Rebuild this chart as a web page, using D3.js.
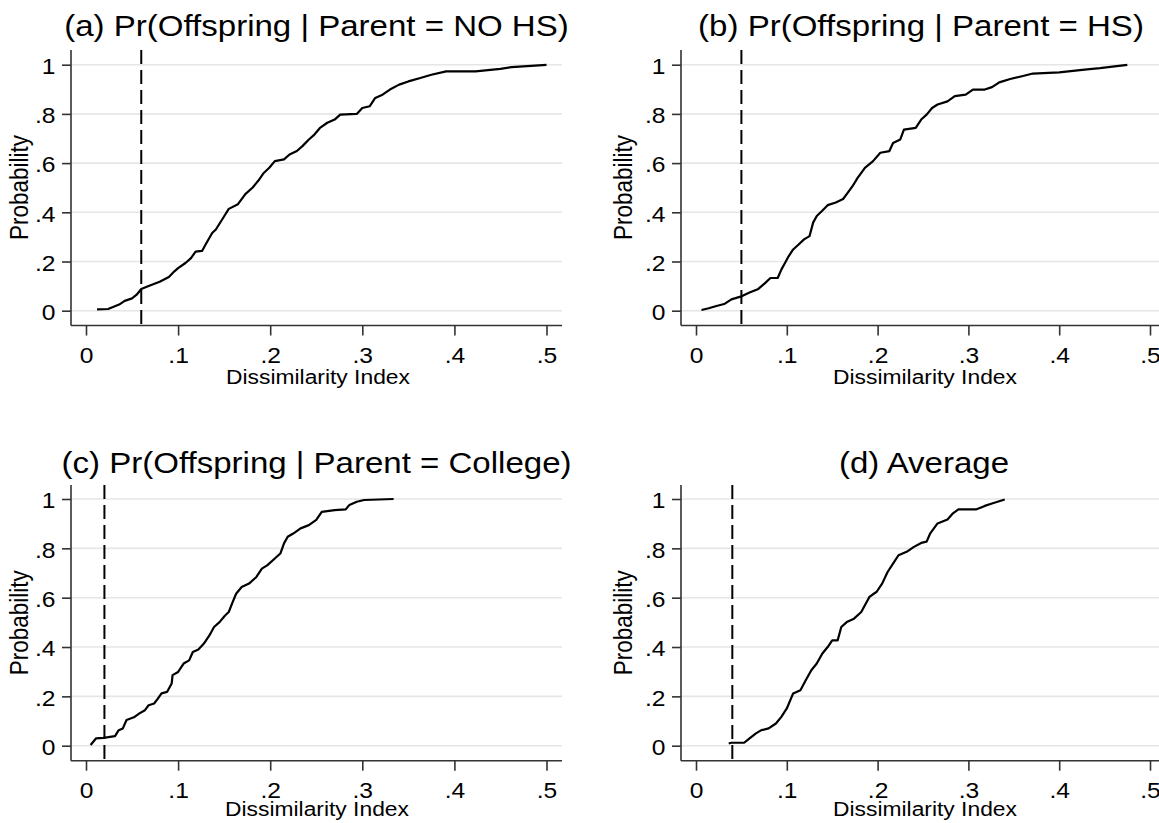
<!DOCTYPE html>
<html>
<head>
<meta charset="utf-8">
<script src="https://cdn.jsdelivr.net/npm/d3@7"></script>
<style>
  body { margin: 0; background: #fff; }
  text { font-family: "Liberation Sans", Arial, sans-serif; fill: #000; }
</style>
</head>
<body>
<svg id="chart" width="1159" height="823"></svg>
<script>
// panel titles and cut-off values (dashed lines)
var titles = ["(a) Pr(Offspring | Parent = NO HS)", "(b) Pr(Offspring | Parent = HS)",
  "(c) Pr(Offspring | Parent = College)", "(d) Average"];
var cutoffs = [0.06, 0.05, 0.02, 0.04];
var xTicks = [0, 0.1, 0.2, 0.3, 0.4, 0.5];
var yTicks = [0, 0.2, 0.4, 0.6, 0.8, 1];
var xTitle = "Dissimilarity Index";
var yTitle = "Probability";

// cumulative distributions, [dissimilarity, probability]
var noHs = [[0.012,0.005],[0.024,0.007],[0.03,0.016],[0.036,0.025],[0.042,0.04],[0.05,0.05],[0.055,0.065],
  [0.06,0.088],[0.068,0.1],[0.08,0.118],[0.09,0.137],[0.096,0.16],[0.1,0.173],[0.108,0.194],[0.114,0.214],
  [0.119,0.24],[0.126,0.243],[0.13,0.27],[0.137,0.316],[0.141,0.33],[0.149,0.378],[0.155,0.414],[0.165,0.433],
  [0.173,0.474],[0.181,0.501],[0.187,0.528],[0.193,0.56],[0.199,0.581],[0.205,0.608],[0.215,0.615],[0.221,0.635],
  [0.229,0.649],[0.235,0.669],[0.242,0.696],[0.248,0.716],[0.254,0.743],[0.262,0.764],[0.27,0.777],[0.276,0.797],
  [0.294,0.8],[0.3,0.824],[0.308,0.831],[0.314,0.865],[0.322,0.878],[0.33,0.899],[0.34,0.919],[0.35,0.932],
  [0.363,0.946],[0.375,0.959],[0.391,0.973],[0.423,0.973],[0.45,0.983],[0.462,0.99],[0.5,0.999]];
var hs = [[0.006,0.003],[0.014,0.01],[0.0225,0.019],[0.031,0.027],[0.039,0.046],[0.049,0.057],[0.059,0.074],
  [0.068,0.087],[0.076,0.112],[0.082,0.133],[0.09,0.133],[0.094,0.167],[0.098,0.194],[0.102,0.221],[0.107,0.249],
  [0.113,0.269],[0.119,0.29],[0.125,0.303],[0.129,0.358],[0.133,0.385],[0.139,0.406],[0.145,0.429],[0.154,0.44],
  [0.162,0.454],[0.166,0.474],[0.172,0.504],[0.178,0.54],[0.186,0.581],[0.195,0.608],[0.203,0.642],[0.213,0.649],
  [0.217,0.682],[0.225,0.696],[0.229,0.736],[0.242,0.743],[0.248,0.777],[0.254,0.797],[0.26,0.824],[0.266,0.838],
  [0.277,0.851],[0.285,0.872],[0.297,0.878],[0.305,0.899],[0.318,0.899],[0.326,0.909],[0.334,0.928],[0.346,0.942],
  [0.359,0.953],[0.371,0.964],[0.4,0.969],[0.428,0.98],[0.445,0.986],[0.461,0.993],[0.475,0.999]];
var college = [[0.005,0.003],[0.011,0.03],[0.019,0.032],[0.0315,0.039],[0.0355,0.063],[0.04,0.07],[0.044,0.104],
  [0.052,0.115],[0.058,0.131],[0.064,0.144],[0.068,0.164],[0.074,0.171],[0.078,0.191],[0.082,0.212],[0.088,0.218],
  [0.093,0.252],[0.094,0.286],[0.1,0.299],[0.106,0.333],[0.112,0.346],[0.116,0.38],[0.122,0.39],[0.128,0.414],
  [0.134,0.447],[0.139,0.481],[0.145,0.501],[0.151,0.528],[0.155,0.542],[0.159,0.58],[0.163,0.616],[0.169,0.643],
  [0.177,0.657],[0.185,0.684],[0.191,0.718],[0.197,0.732],[0.205,0.759],[0.211,0.779],[0.215,0.82],[0.219,0.847],
  [0.225,0.86],[0.233,0.881],[0.242,0.894],[0.25,0.915],[0.256,0.948],[0.27,0.955],[0.282,0.958],[0.286,0.976],
  [0.294,0.989],[0.302,0.996],[0.334,1.0]];
var average = [[0.036,0.009],[0.039,0.012],[0.053,0.012],[0.059,0.03],[0.066,0.05],[0.072,0.063],[0.08,0.07],
  [0.088,0.09],[0.094,0.117],[0.1,0.151],[0.107,0.212],[0.115,0.225],[0.121,0.266],[0.127,0.306],[0.133,0.333],
  [0.139,0.373],[0.145,0.4],[0.15,0.427],[0.156,0.427],[0.16,0.481],[0.166,0.501],[0.174,0.515],[0.182,0.542],
  [0.186,0.569],[0.191,0.603],[0.199,0.624],[0.205,0.657],[0.211,0.704],[0.217,0.738],[0.223,0.772],[0.232,0.786],
  [0.24,0.806],[0.248,0.822],[0.254,0.827],[0.258,0.861],[0.266,0.901],[0.277,0.917],[0.283,0.942],[0.289,0.958],
  [0.309,0.958],[0.318,0.972],[0.326,0.982],[0.34,0.998]];
var curves = [noHs, hs, college, average];

// text in the picture is a bit wider than Arial
var SX = 1.12;

var frames = [
  {l: 71, r: 562, x0: 86, x5: 546.5, t: 50, b: 325.5, y1: 64.7, y0: 310.7, tx: 316.5, ty: 36, ax: 318, ay: 384, yx: 28, yy: 187.5},
  {l: 681, r: 1161, x0: 696, x5: 1150, t: 50, b: 325.5, y1: 64.7, y0: 310.7, tx: 921, ty: 36, ax: 925, ay: 384, yx: 632, yy: 187.5},
  {l: 71, r: 562, x0: 86, x5: 546.5, t: 485, b: 760.7, y1: 499, y0: 745.7, tx: 316.5, ty: 473, ax: 317, ay: 816, yx: 28, yy: 622.8},
  {l: 681, r: 1161, x0: 696, x5: 1150, t: 485, b: 760.7, y1: 499, y0: 745.7, tx: 924, ty: 473, ax: 925, ay: 816, yx: 632, yy: 622.8}
];

function fmt(d) {
  if (d === 0) return "0";
  if (d === 1) return "1";
  return String(+d.toFixed(1)).replace(/^0/, "");
}

function stext(g, x, y, str, size, anchor) {
  return g.append("text")
    .attr("transform", "translate(" + x + "," + y + ") scale(" + SX + ",1)")
    .attr("text-anchor", anchor)
    .style("font-size", size + "px")
    .text(str);
}

var svg = d3.select("#chart");
svg.append("rect").attr("width", 1159).attr("height", 823).attr("fill", "#fff");

for (var i = 0; i < 4; i++) {
  var f = frames[i];
  var g = svg.append("g");
  var x = d3.scaleLinear().domain([0, 0.5]).range([f.x0, f.x5]);
  var y = d3.scaleLinear().domain([0, 1]).range([f.y0, f.y1]);

  // grid
  g.selectAll(".grid").data(yTicks).enter().append("line")
    .attr("x1", f.l).attr("x2", f.r)
    .attr("y1", d => y(d)).attr("y2", d => y(d))
    .attr("stroke", "#e6e6e6").attr("stroke-width", 1.6);

  // axes
  var xa = g.append("g").attr("transform", "translate(0," + f.b + ")")
    .call(d3.axisBottom(x).tickValues(xTicks).tickFormat(fmt).tickSize(10));
  xa.select(".domain").remove();
  xa.selectAll("line").attr("stroke", "#333").attr("stroke-width", 1.6);
  xa.selectAll("text").attr("y", null).attr("dy", null)
    .attr("transform", "translate(0,37.5) scale(" + SX + ",1)")
    .style("font-size", "22px").style("font-family", null).attr("fill", "#000");

  var ya = g.append("g").attr("transform", "translate(" + f.l + ",0)")
    .call(d3.axisLeft(y).tickValues(yTicks).tickFormat(fmt).tickSize(9));
  ya.select(".domain").remove();
  ya.selectAll("line").attr("stroke", "#333").attr("stroke-width", 1.6);
  ya.selectAll("text").attr("x", null).attr("dy", "0.4em")
    .attr("transform", "translate(-15.5,0) scale(" + SX + ",1)")
    .style("font-size", "22px").style("font-family", null).attr("fill", "#000");

  g.append("line").attr("x1", f.l).attr("x2", f.r).attr("y1", f.b).attr("y2", f.b)
    .attr("stroke", "#333").attr("stroke-width", 1.6);
  g.append("line").attr("x1", f.l).attr("x2", f.l).attr("y1", f.t).attr("y2", f.b)
    .attr("stroke", "#333").attr("stroke-width", 1.6);

  // cut-off
  g.append("line")
    .attr("x1", x(cutoffs[i])).attr("x2", x(cutoffs[i]))
    .attr("y1", f.t).attr("y2", f.b)
    .attr("stroke", "#000").attr("stroke-width", 2)
    .attr("stroke-dasharray", "14,6");

  // distribution
  g.append("path").datum(curves[i])
    .attr("d", d3.line().x(d => x(d[0])).y(d => y(d[1])))
    .attr("fill", "none").attr("stroke", "#000")
    .attr("stroke-width", 2.2).attr("stroke-linejoin", "round");

  // texts
  stext(g, f.tx, f.ty, titles[i], 29.5, "middle");
  stext(g, f.ax, f.ay, xTitle, 20.4, "middle");
  g.append("text")
    .attr("transform", "translate(" + f.yx + "," + f.yy + ") scale(" + SX + ",1) rotate(-90)")
    .attr("text-anchor", "middle")
    .style("font-size", "22.5px")
    .text(yTitle);
}
</script>
</body>
</html>
